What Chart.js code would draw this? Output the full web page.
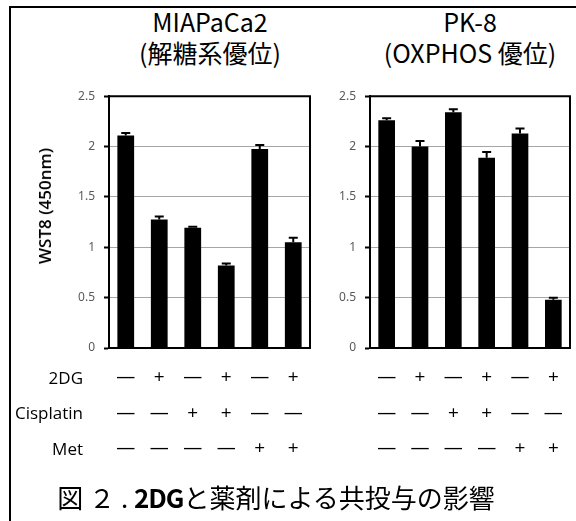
<!DOCTYPE html>
<html>
<head>
<meta charset="utf-8">
<script src="https://cdn.jsdelivr.net/npm/chart.js@4.4.0/dist/chart.umd.min.js"></script>
<style>
  body { margin: 0; background: #fff; width: 576px; height: 521px; overflow: hidden; position: relative;
         font-family: "Noto Sans CJK JP", "Noto Sans", sans-serif; color: #000; }
  #frame { position: absolute; left: 9px; top: 6px; width: 620px; height: 600px;
           border-left: 2px solid #000; border-top: 2px solid #000; }
  canvas { position: absolute; }
  .title { position: absolute; width: 260px; text-align: center; font-size: 25px; line-height: 31px; }
  .row { position: absolute; left: 0; width: 83px; text-align: right; font-size: 17px; line-height: 20px; font-family: "Open Sans", sans-serif; }
  #ytitle { position: absolute; left: 45px; top: 206px; width: 0; height: 0; }
  #ytitle span { position: absolute; left: 0; top: 0; transform: translate(-50%, -50%) rotate(-90deg);
                 white-space: nowrap; font-family: "Open Sans", sans-serif; font-size: 17px; font-weight: 600; line-height: 20px; }
  #caption { position: absolute; left: 0; width: 552px; top: 479px; text-align: center; font-size: 26px; line-height: 36px; }
  #caption b { font-weight: 600; letter-spacing: -1px; }
</style>
</head>
<body>
<div id="frame"></div>
<div class="title" style="left:80px;top:6px">MIAPaCa2<br>(解糖系優位)</div>
<div class="title" style="left:340px;top:6px">PK-8<br>(OXPHOS 優位)</div>
<canvas id="mia" width="318" height="400" style="left:0;top:80px"></canvas>
<canvas id="pk8" width="258" height="400" style="left:318px;top:80px"></canvas>
<div id="ytitle"><span>WST8 (450nm)</span></div>
<div class="row" style="top:368px">2DG</div>
<div class="row" style="top:403px">Cisplatin</div>
<div class="row" style="top:439px">Met</div>
<div id="caption">図 ２ . <b>2DG</b>と薬剤による共投与の影響</div>
<script>
// treatment flags per bar
const dg2 = ["—", "+", "—", "+", "—", "+"];
const cisplatin = ["—", "—", "+", "+", "—", "—"];
const met = ["—", "—", "—", "—", "+", "+"];

// WST8 (450nm) readings
const miaValues = [2.11, 1.275, 1.195, 0.82, 1.975, 1.05];
const miaErrors = [0.025, 0.03, 0.01, 0.02, 0.04, 0.045];
const pk8Values = [2.26, 2.00, 2.34, 1.89, 2.13, 0.48];
const pk8Errors = [0.02, 0.055, 0.03, 0.055, 0.05, 0.02];

const yTicks = [0, 0.5, 1, 1.5, 2, 2.5];

const labels = dg2.map((d, i) => [d, cisplatin[i], met[i]]);

const errorBars = {
  id: "errorBars",
  afterDatasetsDraw(chart, args, opts) {
    const { ctx, scales: { x, y } } = chart;
    ctx.save();
    ctx.strokeStyle = "#000";
    ctx.lineWidth = 2;
    chart.data.datasets[0].data.forEach((v, i) => {
      const px = x.getPixelForValue(i);
      const y0 = y.getPixelForValue(v);
      const y1 = y.getPixelForValue(v + opts.errors[i]);
      ctx.beginPath();
      ctx.moveTo(px, y0);
      ctx.lineTo(px, y1);
      ctx.moveTo(px - 4.5, y1);
      ctx.lineTo(px + 4.5, y1);
      ctx.stroke();
    });
    ctx.restore();
  }
};

const plotFrame = {
  id: "plotFrame",
  afterDraw(chart) {
    const { ctx, chartArea: a } = chart;
    ctx.save();
    ctx.strokeStyle = "#000";
    ctx.lineWidth = 2;
    ctx.beginPath();
    ctx.moveTo(a.left, a.top);
    ctx.lineTo(a.right, a.top);
    ctx.lineTo(a.right, a.bottom);
    ctx.stroke();
    ctx.restore();
  }
};

function makeChart(id, values, errors, yWidth, padRight) {
  return new Chart(document.getElementById(id), {
    type: "bar",
    data: {
      labels: labels,
      datasets: [{
        data: values,
        backgroundColor: "#000",
        barPercentage: 0.5,
        categoryPercentage: 1
      }]
    },
    options: {
      responsive: false,
      animation: false,
      layout: { padding: { top: 15, right: padRight, left: 0, bottom: 0 } },
      plugins: {
        legend: { display: false },
        tooltip: { enabled: false },
        errorBars: { errors: errors }
      },
      scales: {
        x: {
          grid: { display: false, drawTicks: false },
          border: { color: "#000", width: 2 },
          ticks: {
            padding: 12,
            color: "#000",
            font: { family: "Open Sans", size: 19, lineHeight: "35.5px" }
          },
          afterFit(scale) { scale.height = 132; }
        },
        y: {
          min: 0,
          max: 2.5,
          afterBuildTicks(scale) { scale.ticks = yTicks.map(v => ({ value: v })); },
          grid: { color: "#a6a6a6", lineWidth: 1, tickColor: "#000", tickLength: 5, tickWidth: 2 },
          border: { color: "#000", width: 2 },
          ticks: {
            padding: 9,
            color: "#595959",
            font: { family: "Noto Sans", size: 12 },
            callback: v => String(v)
          },
          afterFit(scale) { scale.width = yWidth; }
        }
      }
    },
    plugins: [errorBars, plotFrame]
  });
}

makeChart("mia", miaValues, miaErrors, 109, 8);
makeChart("pk8", pk8Values, pk8Errors, 52, 6);
</script>
</body>
</html>
